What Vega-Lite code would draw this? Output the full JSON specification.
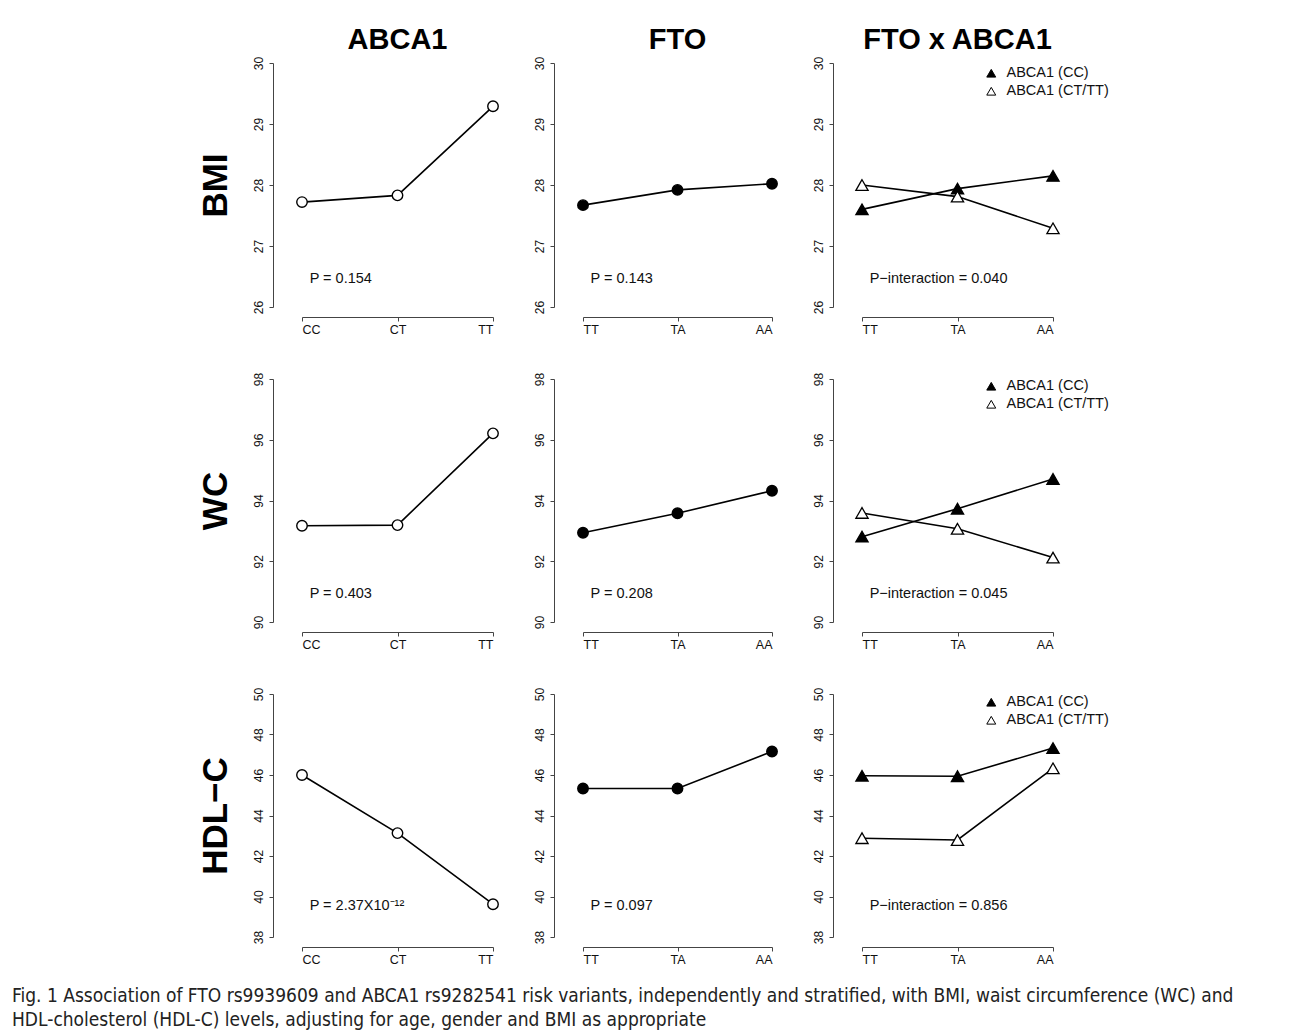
{
  "$schema": "https://vega.github.io/schema/vega-lite/v6.json",
  "padding": {"left": 12, "top": 26, "right": 5, "bottom": 0},
  "background": "white",
  "title": {
    "text": ["Fig. 1 Association of FTO rs9939609 and ABCA1 rs9282541 risk variants, independently and stratified, with BMI, waist circumference (WC) and", "HDL-cholesterol (HDL-C) levels, adjusting for age, gender and BMI as appropriate"],
    "orient": "bottom", "anchor": "start", "frame": "bounds",
    "font": "Liberation Sans Narrow, DejaVu Sans Condensed, sans-serif",
    "fontSize": 19, "fontWeight": "normal", "color": "#222", "lineHeight": 24,
    "offset": 21, "dx": -186
  },
  "bounds": "flush",
  "columns": 3,
  "spacing": {"row": 72, "column": 90},
  "resolve": {"scale": {"x": "independent", "y": "independent", "fill": "independent"}, "axis": {"x": "independent", "y": "independent"}, "legend": {"fill": "independent"}},
  "concat": [
    {
      "width": 191, "height": 244,
      "title": {"text": "ABCA1", "fontSize": 29, "fontWeight": "bold", "font": "Liberation Sans", "color": "black", "anchor": "middle", "frame": "group", "offset": 1},
      "data": {"values": [
        {"geno": "CC", "pos": 1, "group": "ABCA1", "value": 27.72},
        {"geno": "CT", "pos": 2, "group": "ABCA1", "value": 27.83},
        {"geno": "TT", "pos": 3, "group": "ABCA1", "value": 29.29}
      ]},
      "layer": [
        {"mark": {"type": "line", "color": "black", "strokeWidth": 1.6},
         "encoding": {
           "x": {"field": "pos", "type": "quantitative", "scale": {"domain": [1, 3], "nice": false, "zero": false}, "axis": {"title": null, "values": [1, 2, 3], "labelExpr": "datum.value == 1 ? 'CC' : datum.value == 2 ? 'CT' : 'TT'"}},
           "y": {"field": "value", "type": "quantitative", "scale": {"domain": [26, 30], "nice": false, "zero": false}, "axis": {"values": [26, 27, 28, 29, 30], "format": "d", "title": "BMI", "titleFontSize": 35, "titleFontWeight": "bold", "titleColor": "black", "titleFont": "Liberation Sans", "titlePadding": 19}}
         }},
        {"mark": {"type": "point", "shape": "circle", "filled": true, "fill": "white", "stroke": "black", "strokeWidth": 1.4, "size": 110, "opacity": 1},
         "encoding": {"x": {"field": "pos", "type": "quantitative"}, "y": {"field": "value", "type": "quantitative"}}},
        {"data": {"values": [{"label": "P = 0.154"}]},
         "mark": {"type": "text", "align": "left", "baseline": "middle", "fontSize": 14.5, "font": "Liberation Sans", "color": "#111"},
         "encoding": {"x": {"datum": 1.08, "type": "quantitative"}, "y": {"datum": 26.46, "type": "quantitative"}, "text": {"field": "label"}}}
      ]
    },
    {
      "width": 189, "height": 244,
      "title": {"text": "FTO", "fontSize": 29, "fontWeight": "bold", "font": "Liberation Sans", "color": "black", "anchor": "middle", "frame": "group", "offset": 1},
      "data": {"values": [
        {"geno": "TT", "pos": 1, "group": "FTO", "value": 27.67},
        {"geno": "TA", "pos": 2, "group": "FTO", "value": 27.92},
        {"geno": "AA", "pos": 3, "group": "FTO", "value": 28.02}
      ]},
      "layer": [
        {"mark": {"type": "line", "color": "black", "strokeWidth": 1.6},
         "encoding": {
           "x": {"field": "pos", "type": "quantitative", "scale": {"domain": [1, 3], "nice": false, "zero": false}, "axis": {"title": null, "values": [1, 2, 3], "labelExpr": "datum.value == 1 ? 'TT' : datum.value == 2 ? 'TA' : 'AA'"}},
           "y": {"field": "value", "type": "quantitative", "scale": {"domain": [26, 30], "nice": false, "zero": false}, "axis": {"values": [26, 27, 28, 29, 30], "format": "d", "title": null}}
         }},
        {"mark": {"type": "point", "shape": "circle", "filled": true, "fill": "black", "stroke": "black", "strokeWidth": 1.4, "size": 110, "opacity": 1},
         "encoding": {"x": {"field": "pos", "type": "quantitative"}, "y": {"field": "value", "type": "quantitative"}}},
        {"data": {"values": [{"label": "P = 0.143"}]},
         "mark": {"type": "text", "align": "left", "baseline": "middle", "fontSize": 14.5, "font": "Liberation Sans", "color": "#111"},
         "encoding": {"x": {"datum": 1.08, "type": "quantitative"}, "y": {"datum": 26.46, "type": "quantitative"}, "text": {"field": "label"}}}
      ]
    },
    {
      "width": 191, "height": 244,
      "title": {"text": "FTO x ABCA1", "fontSize": 29, "fontWeight": "bold", "font": "Liberation Sans", "color": "black", "anchor": "middle", "frame": "group", "offset": 1},
      "data": {"values": [
        {"geno": "TT", "pos": 1, "group": "ABCA1 (CC)", "value": 27.60},
        {"geno": "TA", "pos": 2, "group": "ABCA1 (CC)", "value": 27.94},
        {"geno": "AA", "pos": 3, "group": "ABCA1 (CC)", "value": 28.15},
        {"geno": "TT", "pos": 1, "group": "ABCA1 (CT/TT)", "value": 28.00},
        {"geno": "TA", "pos": 2, "group": "ABCA1 (CT/TT)", "value": 27.81},
        {"geno": "AA", "pos": 3, "group": "ABCA1 (CT/TT)", "value": 27.29}
      ]},
      "layer": [
        {"mark": {"type": "line", "color": "black", "strokeWidth": 1.6},
         "encoding": {
           "x": {"field": "pos", "type": "quantitative", "scale": {"domain": [1, 3], "nice": false, "zero": false}, "axis": {"title": null, "values": [1, 2, 3], "labelExpr": "datum.value == 1 ? 'TT' : datum.value == 2 ? 'TA' : 'AA'"}},
           "y": {"field": "value", "type": "quantitative", "scale": {"domain": [26, 30], "nice": false, "zero": false}, "axis": {"values": [26, 27, 28, 29, 30], "format": "d", "title": null}},
           "detail": {"field": "group", "type": "nominal"}
         }},
        {"mark": {"type": "point", "shape": "triangle-up", "filled": true, "stroke": "black", "strokeWidth": 1.3, "size": 150, "opacity": 1},
         "encoding": {
           "x": {"field": "pos", "type": "quantitative"},
           "y": {"field": "value", "type": "quantitative"},
           "fill": {"field": "group", "type": "nominal", "scale": {"domain": ["ABCA1 (CC)", "ABCA1 (CT/TT)"], "range": ["black", "white"]},
                    "legend": {"title": null, "orient": "none", "legendX": 122, "legendY": 3, "padding": 0, "symbolType": "triangle-up", "symbolSize": 80, "symbolStrokeColor": "black", "symbolStrokeWidth": 1, "labelFontSize": 14.5, "labelFont": "Liberation Sans", "labelColor": "#111", "labelOffset": 8, "rowPadding": 3}}
         }},
        {"data": {"values": [{"label": "P−interaction = 0.040"}]},
         "mark": {"type": "text", "align": "left", "baseline": "middle", "fontSize": 14.5, "font": "Liberation Sans", "color": "#111"},
         "encoding": {"x": {"datum": 1.08, "type": "quantitative"}, "y": {"datum": 26.46, "type": "quantitative"}, "text": {"field": "label"}}}
      ]
    },
    {
      "width": 191, "height": 243,
      "data": {"values": [
        {"geno": "CC", "pos": 1, "group": "ABCA1", "value": 93.17},
        {"geno": "CT", "pos": 2, "group": "ABCA1", "value": 93.19},
        {"geno": "TT", "pos": 3, "group": "ABCA1", "value": 96.21}
      ]},
      "layer": [
        {"mark": {"type": "line", "color": "black", "strokeWidth": 1.6},
         "encoding": {
           "x": {"field": "pos", "type": "quantitative", "scale": {"domain": [1, 3], "nice": false, "zero": false}, "axis": {"title": null, "values": [1, 2, 3], "labelExpr": "datum.value == 1 ? 'CC' : datum.value == 2 ? 'CT' : 'TT'"}},
           "y": {"field": "value", "type": "quantitative", "scale": {"domain": [90, 98], "nice": false, "zero": false}, "axis": {"values": [90, 92, 94, 96, 98], "format": "d", "title": "WC", "titleFontSize": 35, "titleFontWeight": "bold", "titleColor": "black", "titleFont": "Liberation Sans", "titlePadding": 19}}
         }},
        {"mark": {"type": "point", "shape": "circle", "filled": true, "fill": "white", "stroke": "black", "strokeWidth": 1.4, "size": 110, "opacity": 1},
         "encoding": {"x": {"field": "pos", "type": "quantitative"}, "y": {"field": "value", "type": "quantitative"}}},
        {"data": {"values": [{"label": "P = 0.403"}]},
         "mark": {"type": "text", "align": "left", "baseline": "middle", "fontSize": 14.5, "font": "Liberation Sans", "color": "#111"},
         "encoding": {"x": {"datum": 1.08, "type": "quantitative"}, "y": {"datum": 90.91, "type": "quantitative"}, "text": {"field": "label"}}}
      ]
    },
    {
      "width": 189, "height": 243,
      "data": {"values": [
        {"geno": "TT", "pos": 1, "group": "FTO", "value": 92.94},
        {"geno": "TA", "pos": 2, "group": "FTO", "value": 93.58},
        {"geno": "AA", "pos": 3, "group": "FTO", "value": 94.32}
      ]},
      "layer": [
        {"mark": {"type": "line", "color": "black", "strokeWidth": 1.6},
         "encoding": {
           "x": {"field": "pos", "type": "quantitative", "scale": {"domain": [1, 3], "nice": false, "zero": false}, "axis": {"title": null, "values": [1, 2, 3], "labelExpr": "datum.value == 1 ? 'TT' : datum.value == 2 ? 'TA' : 'AA'"}},
           "y": {"field": "value", "type": "quantitative", "scale": {"domain": [90, 98], "nice": false, "zero": false}, "axis": {"values": [90, 92, 94, 96, 98], "format": "d", "title": null}}
         }},
        {"mark": {"type": "point", "shape": "circle", "filled": true, "fill": "black", "stroke": "black", "strokeWidth": 1.4, "size": 110, "opacity": 1},
         "encoding": {"x": {"field": "pos", "type": "quantitative"}, "y": {"field": "value", "type": "quantitative"}}},
        {"data": {"values": [{"label": "P = 0.208"}]},
         "mark": {"type": "text", "align": "left", "baseline": "middle", "fontSize": 14.5, "font": "Liberation Sans", "color": "#111"},
         "encoding": {"x": {"datum": 1.08, "type": "quantitative"}, "y": {"datum": 90.91, "type": "quantitative"}, "text": {"field": "label"}}}
      ]
    },
    {
      "width": 191, "height": 243,
      "data": {"values": [
        {"geno": "TT", "pos": 1, "group": "ABCA1 (CC)", "value": 92.81},
        {"geno": "TA", "pos": 2, "group": "ABCA1 (CC)", "value": 93.73},
        {"geno": "AA", "pos": 3, "group": "ABCA1 (CC)", "value": 94.71},
        {"geno": "TT", "pos": 1, "group": "ABCA1 (CT/TT)", "value": 93.59},
        {"geno": "TA", "pos": 2, "group": "ABCA1 (CT/TT)", "value": 93.07},
        {"geno": "AA", "pos": 3, "group": "ABCA1 (CT/TT)", "value": 92.12}
      ]},
      "layer": [
        {"mark": {"type": "line", "color": "black", "strokeWidth": 1.6},
         "encoding": {
           "x": {"field": "pos", "type": "quantitative", "scale": {"domain": [1, 3], "nice": false, "zero": false}, "axis": {"title": null, "values": [1, 2, 3], "labelExpr": "datum.value == 1 ? 'TT' : datum.value == 2 ? 'TA' : 'AA'"}},
           "y": {"field": "value", "type": "quantitative", "scale": {"domain": [90, 98], "nice": false, "zero": false}, "axis": {"values": [90, 92, 94, 96, 98], "format": "d", "title": null}},
           "detail": {"field": "group", "type": "nominal"}
         }},
        {"mark": {"type": "point", "shape": "triangle-up", "filled": true, "stroke": "black", "strokeWidth": 1.3, "size": 150, "opacity": 1},
         "encoding": {
           "x": {"field": "pos", "type": "quantitative"},
           "y": {"field": "value", "type": "quantitative"},
           "fill": {"field": "group", "type": "nominal", "scale": {"domain": ["ABCA1 (CC)", "ABCA1 (CT/TT)"], "range": ["black", "white"]},
                    "legend": {"title": null, "orient": "none", "legendX": 122, "legendY": 0, "padding": 0, "symbolType": "triangle-up", "symbolSize": 80, "symbolStrokeColor": "black", "symbolStrokeWidth": 1, "labelFontSize": 14.5, "labelFont": "Liberation Sans", "labelColor": "#111", "labelOffset": 8, "rowPadding": 3}}
         }},
        {"data": {"values": [{"label": "P−interaction = 0.045"}]},
         "mark": {"type": "text", "align": "left", "baseline": "middle", "fontSize": 14.5, "font": "Liberation Sans", "color": "#111"},
         "encoding": {"x": {"datum": 1.08, "type": "quantitative"}, "y": {"datum": 90.91, "type": "quantitative"}, "text": {"field": "label"}}}
      ]
    },
    {
      "width": 191, "height": 243,
      "data": {"values": [
        {"geno": "CC", "pos": 1, "group": "ABCA1", "value": 46.00},
        {"geno": "CT", "pos": 2, "group": "ABCA1", "value": 43.13},
        {"geno": "TT", "pos": 3, "group": "ABCA1", "value": 39.62}
      ]},
      "layer": [
        {"mark": {"type": "line", "color": "black", "strokeWidth": 1.6},
         "encoding": {
           "x": {"field": "pos", "type": "quantitative", "scale": {"domain": [1, 3], "nice": false, "zero": false}, "axis": {"title": null, "values": [1, 2, 3], "labelExpr": "datum.value == 1 ? 'CC' : datum.value == 2 ? 'CT' : 'TT'"}},
           "y": {"field": "value", "type": "quantitative", "scale": {"domain": [38, 50], "nice": false, "zero": false}, "axis": {"values": [38, 40, 42, 44, 46, 48, 50], "format": "d", "title": "HDL−C", "titleFontSize": 35, "titleFontWeight": "bold", "titleColor": "black", "titleFont": "Liberation Sans", "titlePadding": 19}}
         }},
        {"mark": {"type": "point", "shape": "circle", "filled": true, "fill": "white", "stroke": "black", "strokeWidth": 1.4, "size": 110, "opacity": 1},
         "encoding": {"x": {"field": "pos", "type": "quantitative"}, "y": {"field": "value", "type": "quantitative"}}},
        {"data": {"values": [{"label": "P = 2.37X10⁻¹²"}]},
         "mark": {"type": "text", "align": "left", "baseline": "middle", "fontSize": 14.5, "font": "Liberation Sans", "color": "#111"},
         "encoding": {"x": {"datum": 1.08, "type": "quantitative"}, "y": {"datum": 39.55, "type": "quantitative"}, "text": {"field": "label"}}}
      ]
    },
    {
      "width": 189, "height": 243,
      "data": {"values": [
        {"geno": "TT", "pos": 1, "group": "FTO", "value": 45.33},
        {"geno": "TA", "pos": 2, "group": "FTO", "value": 45.33},
        {"geno": "AA", "pos": 3, "group": "FTO", "value": 47.16}
      ]},
      "layer": [
        {"mark": {"type": "line", "color": "black", "strokeWidth": 1.6},
         "encoding": {
           "x": {"field": "pos", "type": "quantitative", "scale": {"domain": [1, 3], "nice": false, "zero": false}, "axis": {"title": null, "values": [1, 2, 3], "labelExpr": "datum.value == 1 ? 'TT' : datum.value == 2 ? 'TA' : 'AA'"}},
           "y": {"field": "value", "type": "quantitative", "scale": {"domain": [38, 50], "nice": false, "zero": false}, "axis": {"values": [38, 40, 42, 44, 46, 48, 50], "format": "d", "title": null}}
         }},
        {"mark": {"type": "point", "shape": "circle", "filled": true, "fill": "black", "stroke": "black", "strokeWidth": 1.4, "size": 110, "opacity": 1},
         "encoding": {"x": {"field": "pos", "type": "quantitative"}, "y": {"field": "value", "type": "quantitative"}}},
        {"data": {"values": [{"label": "P = 0.097"}]},
         "mark": {"type": "text", "align": "left", "baseline": "middle", "fontSize": 14.5, "font": "Liberation Sans", "color": "#111"},
         "encoding": {"x": {"datum": 1.08, "type": "quantitative"}, "y": {"datum": 39.55, "type": "quantitative"}, "text": {"field": "label"}}}
      ]
    },
    {
      "width": 191, "height": 243,
      "data": {"values": [
        {"geno": "TT", "pos": 1, "group": "ABCA1 (CC)", "value": 45.96},
        {"geno": "TA", "pos": 2, "group": "ABCA1 (CC)", "value": 45.94},
        {"geno": "AA", "pos": 3, "group": "ABCA1 (CC)", "value": 47.33},
        {"geno": "TT", "pos": 1, "group": "ABCA1 (CT/TT)", "value": 42.88},
        {"geno": "TA", "pos": 2, "group": "ABCA1 (CT/TT)", "value": 42.79},
        {"geno": "AA", "pos": 3, "group": "ABCA1 (CT/TT)", "value": 46.33}
      ]},
      "layer": [
        {"mark": {"type": "line", "color": "black", "strokeWidth": 1.6},
         "encoding": {
           "x": {"field": "pos", "type": "quantitative", "scale": {"domain": [1, 3], "nice": false, "zero": false}, "axis": {"title": null, "values": [1, 2, 3], "labelExpr": "datum.value == 1 ? 'TT' : datum.value == 2 ? 'TA' : 'AA'"}},
           "y": {"field": "value", "type": "quantitative", "scale": {"domain": [38, 50], "nice": false, "zero": false}, "axis": {"values": [38, 40, 42, 44, 46, 48, 50], "format": "d", "title": null}},
           "detail": {"field": "group", "type": "nominal"}
         }},
        {"mark": {"type": "point", "shape": "triangle-up", "filled": true, "stroke": "black", "strokeWidth": 1.3, "size": 150, "opacity": 1},
         "encoding": {
           "x": {"field": "pos", "type": "quantitative"},
           "y": {"field": "value", "type": "quantitative"},
           "fill": {"field": "group", "type": "nominal", "scale": {"domain": ["ABCA1 (CC)", "ABCA1 (CT/TT)"], "range": ["black", "white"]},
                    "legend": {"title": null, "orient": "none", "legendX": 122, "legendY": 1, "padding": 0, "symbolType": "triangle-up", "symbolSize": 80, "symbolStrokeColor": "black", "symbolStrokeWidth": 1, "labelFontSize": 14.5, "labelFont": "Liberation Sans", "labelColor": "#111", "labelOffset": 8, "rowPadding": 3}}
         }},
        {"data": {"values": [{"label": "P−interaction = 0.856"}]},
         "mark": {"type": "text", "align": "left", "baseline": "middle", "fontSize": 14.5, "font": "Liberation Sans", "color": "#111"},
         "encoding": {"x": {"datum": 1.08, "type": "quantitative"}, "y": {"datum": 39.55, "type": "quantitative"}, "text": {"field": "label"}}}
      ]
    }
  ],
  "config": {
    "view": {"stroke": null},
    "font": "Liberation Sans",
    "axis": {"grid": false, "domainColor": "#444", "tickColor": "#444", "labelColor": "#111", "labelFont": "Liberation Sans", "labelFontSize": 12.5, "tickSize": 4, "domainWidth": 1, "tickWidth": 1},
    "axisX": {"offset": 10, "labelPadding": 2},
    "axisY": {"offset": 29, "labelAngle": 270, "labelAlign": "center", "labelBaseline": "bottom", "labelPadding": 4, "labelFontSize": 12}
  }
}
